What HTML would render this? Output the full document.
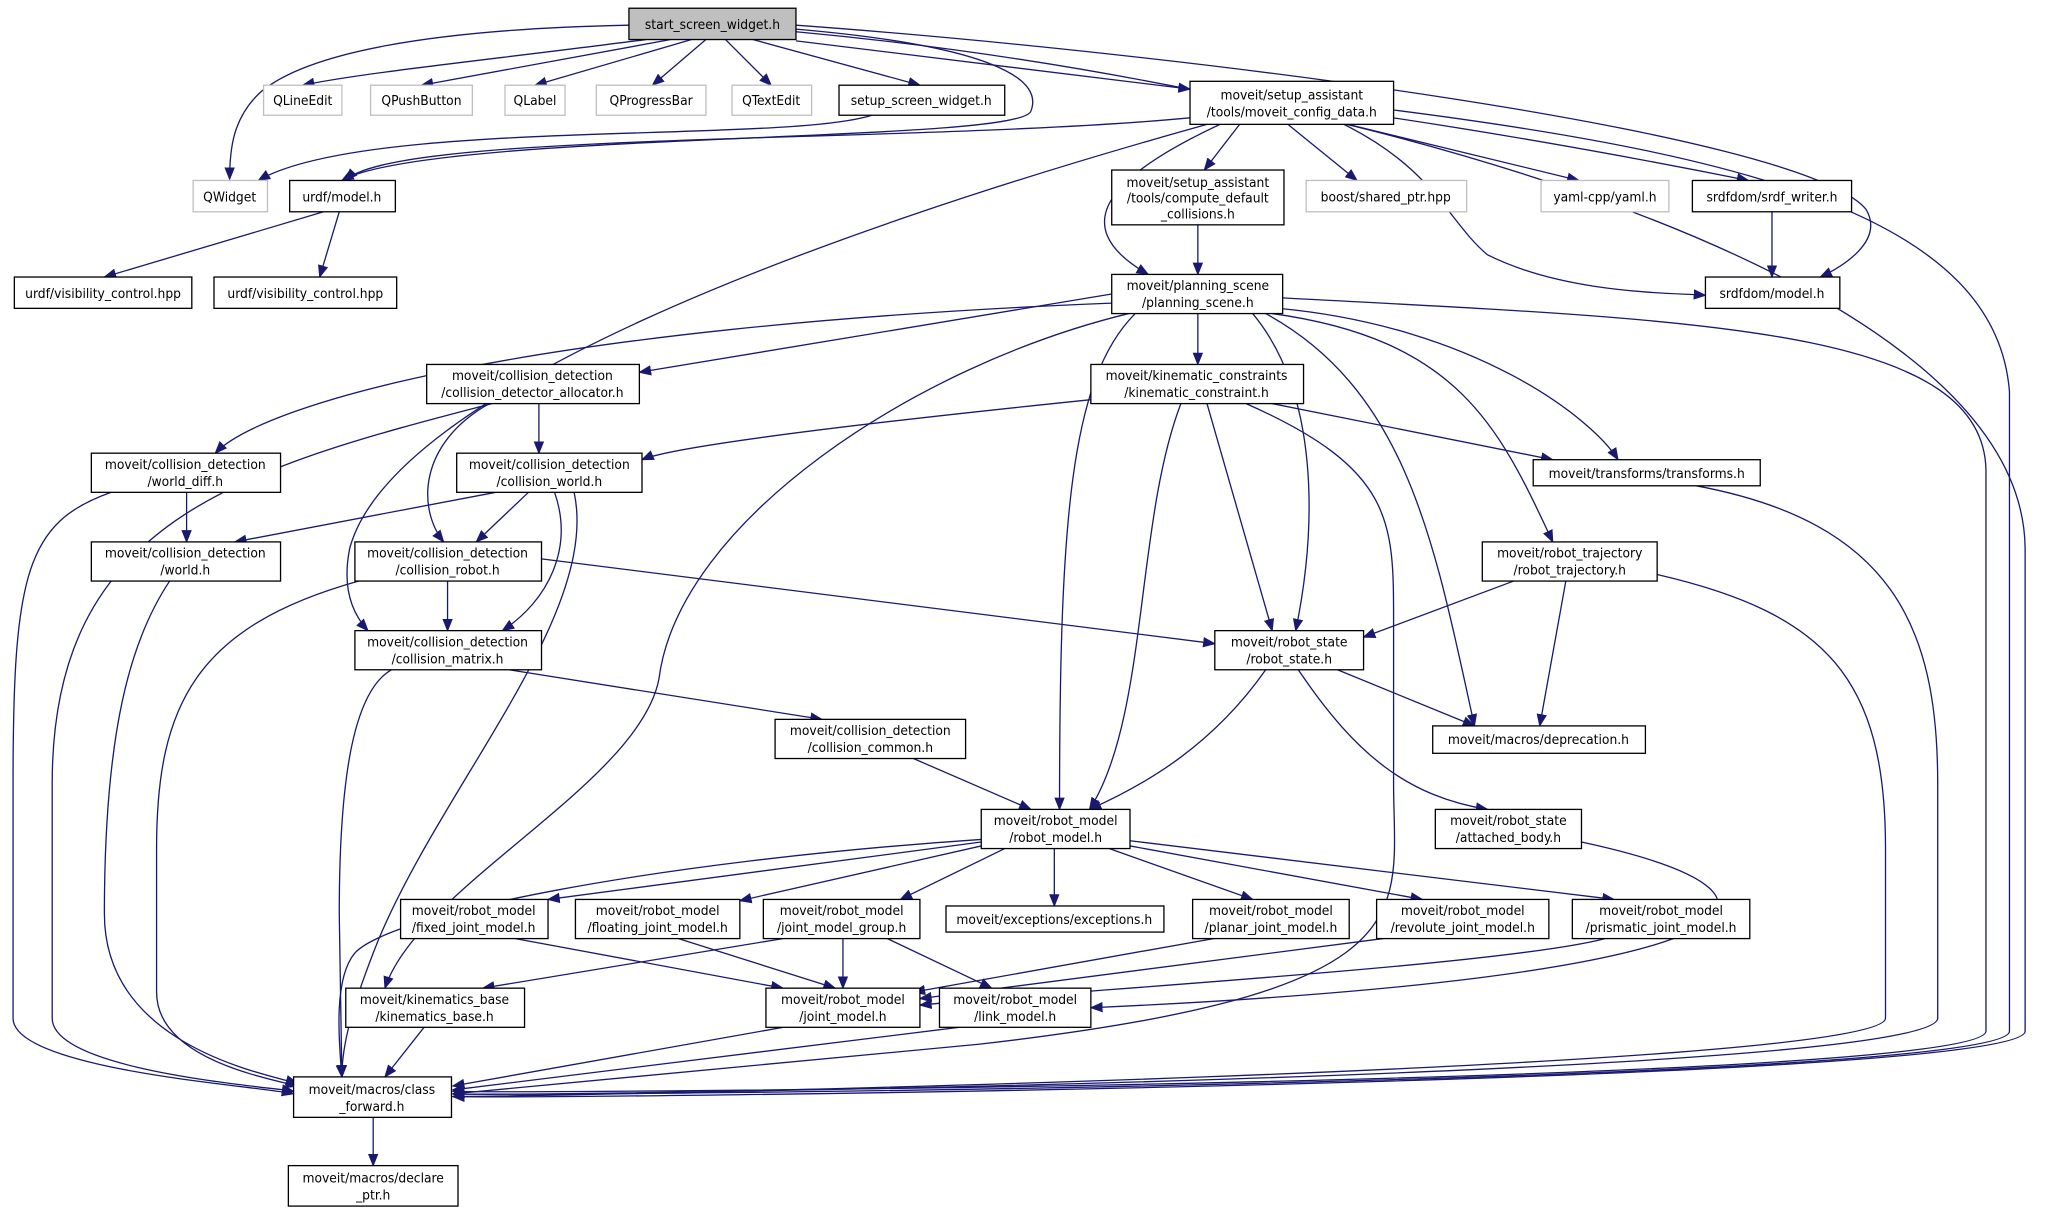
<!DOCTYPE html>
<html><head><meta charset="utf-8"><style>
html,body{margin:0;padding:0;background:#fff;}
svg{display:block;}
text{font-family:"DejaVu Sans Condensed","Liberation Sans Narrow","DejaVu Sans",sans-serif;font-size:10.5px;fill:#000;text-anchor:middle;}
.n{fill:#fff;stroke:#000;stroke-width:1;}
.g{fill:#fff;stroke:#bfbfbf;stroke-width:1;}
.e{fill:none;stroke:#191970;stroke-width:1;marker-end:url(#a);}
</style></head><body>
<svg width="2046" height="1213" viewBox="0 0 1568 929" xmlns="http://www.w3.org/2000/svg">
<defs><marker id="a" markerWidth="10" markerHeight="8" refX="9" refY="4" orient="auto" markerUnits="userSpaceOnUse"><path d="M0,0 L10,4 L0,8 z" fill="#191970"/></marker></defs>
<g>
<path class="e" d="M482,19 C330,22 236,40 200,70 C178,90 176,115 176,137"/>
<path class="e" d="M495,30 C380,45 280,55 232,65"/>
<path class="e" d="M514,30 L323,65"/>
<path class="e" d="M530,30 L410,65"/>
<path class="e" d="M541,30 L500,65"/>
<path class="e" d="M556,30 L591,65"/>
<path class="e" d="M577,30 L705,65"/>
<path class="e" d="M610,31 L912,68"/>
<path class="e" d="M610,22 C760,35 800,60 790,85 C780,110 330,100 262,138"/>
<path class="e" d="M610,19 C900,40 1380,100 1430,160 C1445,185 1410,205 1395,212"/>
<path class="e" d="M610,24 C1000,60 1550,200 1552,420 L1552,790 C1552,830 420,842 347,840"/>
<path class="e" d="M668,88 C600,110 280,90 198,138"/>
<path class="e" d="M912,90 C700,110 300,100 265,138"/>
<path class="e" d="M925,95 C620,180 300,300 268,420 C262,450 270,470 282,483"/>
<path class="e" d="M935,95 C860,130 810,170 880,210"/>
<path class="e" d="M950,95 L923,130"/>
<path class="e" d="M987,95 L1040,138"/>
<path class="e" d="M1033,95 L1210,138"/>
<path class="e" d="M1068,90 C1200,110 1300,130 1340,138"/>
<path class="e" d="M1030,95 C1100,130 1110,170 1140,195 C1200,225 1280,224 1307,226"/>
<path class="e" d="M1068,84 C1350,120 1530,170 1540,300 L1540,790 C1540,830 420,840 347,838"/>
<path class="e" d="M918,172 L918,210"/>
<path class="e" d="M1358,162 L1358,212"/>
<path class="e" d="M248,162 L80,212"/>
<path class="e" d="M260,162 L245,212"/>
<path class="e" d="M852,232 C400,250 200,310 165,347"/>
<path class="e" d="M852,225 L490,285"/>
<path class="e" d="M865,240 C700,280 520,400 505,520 C490,600 320,680 295,757"/>
<path class="e" d="M870,240 C820,290 812,400 812,620"/>
<path class="e" d="M918,240 L918,279"/>
<path class="e" d="M960,240 C1010,300 1010,400 993,483"/>
<path class="e" d="M970,240 C1080,300 1100,420 1130,556"/>
<path class="e" d="M975,240 C1120,260 1150,330 1190,415"/>
<path class="e" d="M980,236 C1130,250 1220,320 1240,352"/>
<path class="e" d="M983,228 C1300,245 1520,250 1522,360 L1522,790 C1520,830 420,838 347,836"/>
<path class="e" d="M413,309 L413,347"/>
<path class="e" d="M375,309 C320,340 320,390 340,415"/>
<path class="e" d="M377,309 C180,360 40,400 40,600 L40,780 C40,820 200,832 225,836"/>
<path class="e" d="M836,306 C700,320 520,340 492,352"/>
<path class="e" d="M960,306 L1190,352"/>
<path class="e" d="M905,309 C870,400 880,550 835,620"/>
<path class="e" d="M925,309 L975,483"/>
<path class="e" d="M955,309 C1070,360 1068,400 1068,480 L1068,600 C1068,700 1100,760 750,800 L347,838"/>
<path class="e" d="M143,377 L143,415"/>
<path class="e" d="M85,377 C20,400 10,440 10,600 L10,780 C10,820 200,832 225,838"/>
<path class="e" d="M380,377 L180,415"/>
<path class="e" d="M405,377 L365,415"/>
<path class="e" d="M425,377 C440,420 420,460 385,483"/>
<path class="e" d="M440,377 C460,470 340,600 290,720 C270,770 262,800 262,825"/>
<path class="e" d="M130,445 C100,490 80,560 80,700 C80,800 200,822 228,830"/>
<path class="e" d="M343,445 L343,483"/>
<path class="e" d="M415,428 L931,493"/>
<path class="e" d="M275,445 C150,480 120,540 120,650 L120,760 C120,810 200,825 228,832"/>
<path class="e" d="M1160,445 L1045,488"/>
<path class="e" d="M1200,445 L1180,556"/>
<path class="e" d="M1270,440 C1400,470 1445,520 1445,650 L1445,780 C1445,820 420,840 347,840"/>
<path class="e" d="M1300,372 C1450,400 1485,480 1485,600 L1485,780 C1485,825 420,840 347,838"/>
<path class="e" d="M390,513 L630,551"/>
<path class="e" d="M300,513 C270,530 260,600 260,700 L262,825"/>
<path class="e" d="M1025,513 L1130,556"/>
<path class="e" d="M970,513 C930,570 880,600 835,620"/>
<path class="e" d="M995,513 C1040,580 1080,610 1140,620"/>
<path class="e" d="M700,581 L790,620"/>
<path class="e" d="M752,645 L420,689"/>
<path class="e" d="M752,648 L567,690"/>
<path class="e" d="M770,650 L690,689"/>
<path class="e" d="M808,650 L808,694"/>
<path class="e" d="M850,650 L960,689"/>
<path class="e" d="M866,648 L1090,689"/>
<path class="e" d="M866,644 L1237,689"/>
<path class="e" d="M752,643 C500,660 300,700 272,730 C255,750 260,800 262,825"/>
<path class="e" d="M1212,645 C1420,690 1330,750 836,772"/>
<path class="e" d="M395,719 L600,757"/>
<path class="e" d="M520,719 L640,757"/>
<path class="e" d="M600,719 L370,757"/>
<path class="e" d="M646,719 L646,757"/>
<path class="e" d="M680,719 L760,757"/>
<path class="e" d="M930,719 L700,760"/>
<path class="e" d="M1060,719 L705,765"/>
<path class="e" d="M1230,719 C1150,740 800,760 705,770"/>
<path class="e" d="M325,787 L295,825"/>
<path class="e" d="M600,787 L347,832"/>
<path class="e" d="M735,787 L347,835"/>
<path class="e" d="M286,856 L286,893"/>
</g>
<g>
<rect x="482" y="6" width="128" height="24" fill="#bfbfbf" stroke="#000"/><text x="546" y="22">start_screen_widget.h</text>
<rect class="g" x="202" y="65" width="60" height="23"/><text x="232" y="80">QLineEdit</text>
<rect class="g" x="284" y="65" width="78" height="23"/><text x="323" y="80">QPushButton</text>
<rect class="g" x="387" y="65" width="46" height="23"/><text x="410" y="80">QLabel</text>
<rect class="g" x="457" y="65" width="84" height="23"/><text x="499" y="80">QProgressBar</text>
<rect class="g" x="561" y="65" width="61" height="23"/><text x="591" y="80">QTextEdit</text>
<rect class="n" x="643" y="65" width="127" height="23"/><text x="706" y="80">setup_screen_widget.h</text>
<rect class="n" x="912" y="62" width="156" height="33"/><text x="990" y="76">moveit/setup_assistant</text><text x="990" y="89">/tools/moveit_config_data.h</text>
<rect class="g" x="148" y="138" width="57" height="24"/><text x="176" y="154">QWidget</text>
<rect class="n" x="222" y="138" width="81" height="24"/><text x="262" y="154">urdf/model.h</text>
<rect class="n" x="852" y="130" width="132" height="42"/><text x="918" y="143">moveit/setup_assistant</text><text x="918" y="155">/tools/compute_default</text><text x="918" y="167">_collisions.h</text>
<rect class="g" x="1001" y="138" width="123" height="24"/><text x="1062" y="154">boost/shared_ptr.hpp</text>
<rect class="g" x="1181" y="138" width="98" height="24"/><text x="1230" y="154">yaml-cpp/yaml.h</text>
<rect class="n" x="1297" y="138" width="122" height="24"/><text x="1358" y="154">srdfdom/srdf_writer.h</text>
<rect class="n" x="11" y="212" width="136" height="24"/><text x="79" y="228">urdf/visibility_control.hpp</text>
<rect class="n" x="164" y="212" width="140" height="24"/><text x="234" y="228">urdf/visibility_control.hpp</text>
<rect class="n" x="852" y="210" width="131" height="30"/><text x="918" y="222">moveit/planning_scene</text><text x="918" y="235">/planning_scene.h</text>
<rect class="n" x="1307" y="212" width="103" height="24"/><text x="1358" y="228">srdfdom/model.h</text>
<rect class="n" x="327" y="279" width="163" height="30"/><text x="408" y="291">moveit/collision_detection</text><text x="408" y="304">/collision_detector_allocator.h</text>
<rect class="n" x="836" y="279" width="163" height="30"/><text x="917" y="291">moveit/kinematic_constraints</text><text x="917" y="304">/kinematic_constraint.h</text>
<rect class="n" x="70" y="347" width="145" height="30"/><text x="142" y="359">moveit/collision_detection</text><text x="142" y="372">/world_diff.h</text>
<rect class="n" x="350" y="347" width="142" height="30"/><text x="421" y="359">moveit/collision_detection</text><text x="421" y="372">/collision_world.h</text>
<rect class="n" x="1175" y="352" width="174" height="20"/><text x="1262" y="366">moveit/transforms/transforms.h</text>
<rect class="n" x="70" y="415" width="145" height="30"/><text x="142" y="427">moveit/collision_detection</text><text x="142" y="440">/world.h</text>
<rect class="n" x="272" y="415" width="143" height="30"/><text x="343" y="427">moveit/collision_detection</text><text x="343" y="440">/collision_robot.h</text>
<rect class="n" x="1136" y="415" width="134" height="30"/><text x="1203" y="427">moveit/robot_trajectory</text><text x="1203" y="440">/robot_trajectory.h</text>
<rect class="n" x="272" y="483" width="143" height="30"/><text x="343" y="495">moveit/collision_detection</text><text x="343" y="508">/collision_matrix.h</text>
<rect class="n" x="931" y="483" width="114" height="30"/><text x="988" y="495">moveit/robot_state</text><text x="988" y="508">/robot_state.h</text>
<rect class="n" x="594" y="551" width="146" height="30"/><text x="667" y="563">moveit/collision_detection</text><text x="667" y="576">/collision_common.h</text>
<rect class="n" x="1098" y="556" width="163" height="21"/><text x="1179" y="570">moveit/macros/deprecation.h</text>
<rect class="n" x="752" y="620" width="114" height="30"/><text x="809" y="632">moveit/robot_model</text><text x="809" y="645">/robot_model.h</text>
<rect class="n" x="1100" y="620" width="112" height="30"/><text x="1156" y="632">moveit/robot_state</text><text x="1156" y="645">/attached_body.h</text>
<rect class="n" x="307" y="689" width="113" height="30"/><text x="363" y="701">moveit/robot_model</text><text x="363" y="714">/fixed_joint_model.h</text>
<rect class="n" x="441" y="689" width="126" height="30"/><text x="504" y="701">moveit/robot_model</text><text x="504" y="714">/floating_joint_model.h</text>
<rect class="n" x="585" y="689" width="120" height="30"/><text x="645" y="701">moveit/robot_model</text><text x="645" y="714">/joint_model_group.h</text>
<rect class="n" x="725" y="694" width="167" height="20"/><text x="808" y="708">moveit/exceptions/exceptions.h</text>
<rect class="n" x="914" y="689" width="120" height="30"/><text x="974" y="701">moveit/robot_model</text><text x="974" y="714">/planar_joint_model.h</text>
<rect class="n" x="1055" y="689" width="132" height="30"/><text x="1121" y="701">moveit/robot_model</text><text x="1121" y="714">/revolute_joint_model.h</text>
<rect class="n" x="1205" y="689" width="136" height="30"/><text x="1273" y="701">moveit/robot_model</text><text x="1273" y="714">/prismatic_joint_model.h</text>
<rect class="n" x="265" y="757" width="137" height="30"/><text x="333" y="769">moveit/kinematics_base</text><text x="333" y="782">/kinematics_base.h</text>
<rect class="n" x="587" y="757" width="118" height="30"/><text x="646" y="769">moveit/robot_model</text><text x="646" y="782">/joint_model.h</text>
<rect class="n" x="720" y="757" width="116" height="30"/><text x="778" y="769">moveit/robot_model</text><text x="778" y="782">/link_model.h</text>
<rect class="n" x="225" y="825" width="121" height="31"/><text x="285" y="838">moveit/macros/class</text><text x="285" y="851">_forward.h</text>
<rect class="n" x="221" y="893" width="130" height="31"/><text x="286" y="906">moveit/macros/declare</text><text x="286" y="919">_ptr.h</text>
</g>
</svg>
</body></html>
